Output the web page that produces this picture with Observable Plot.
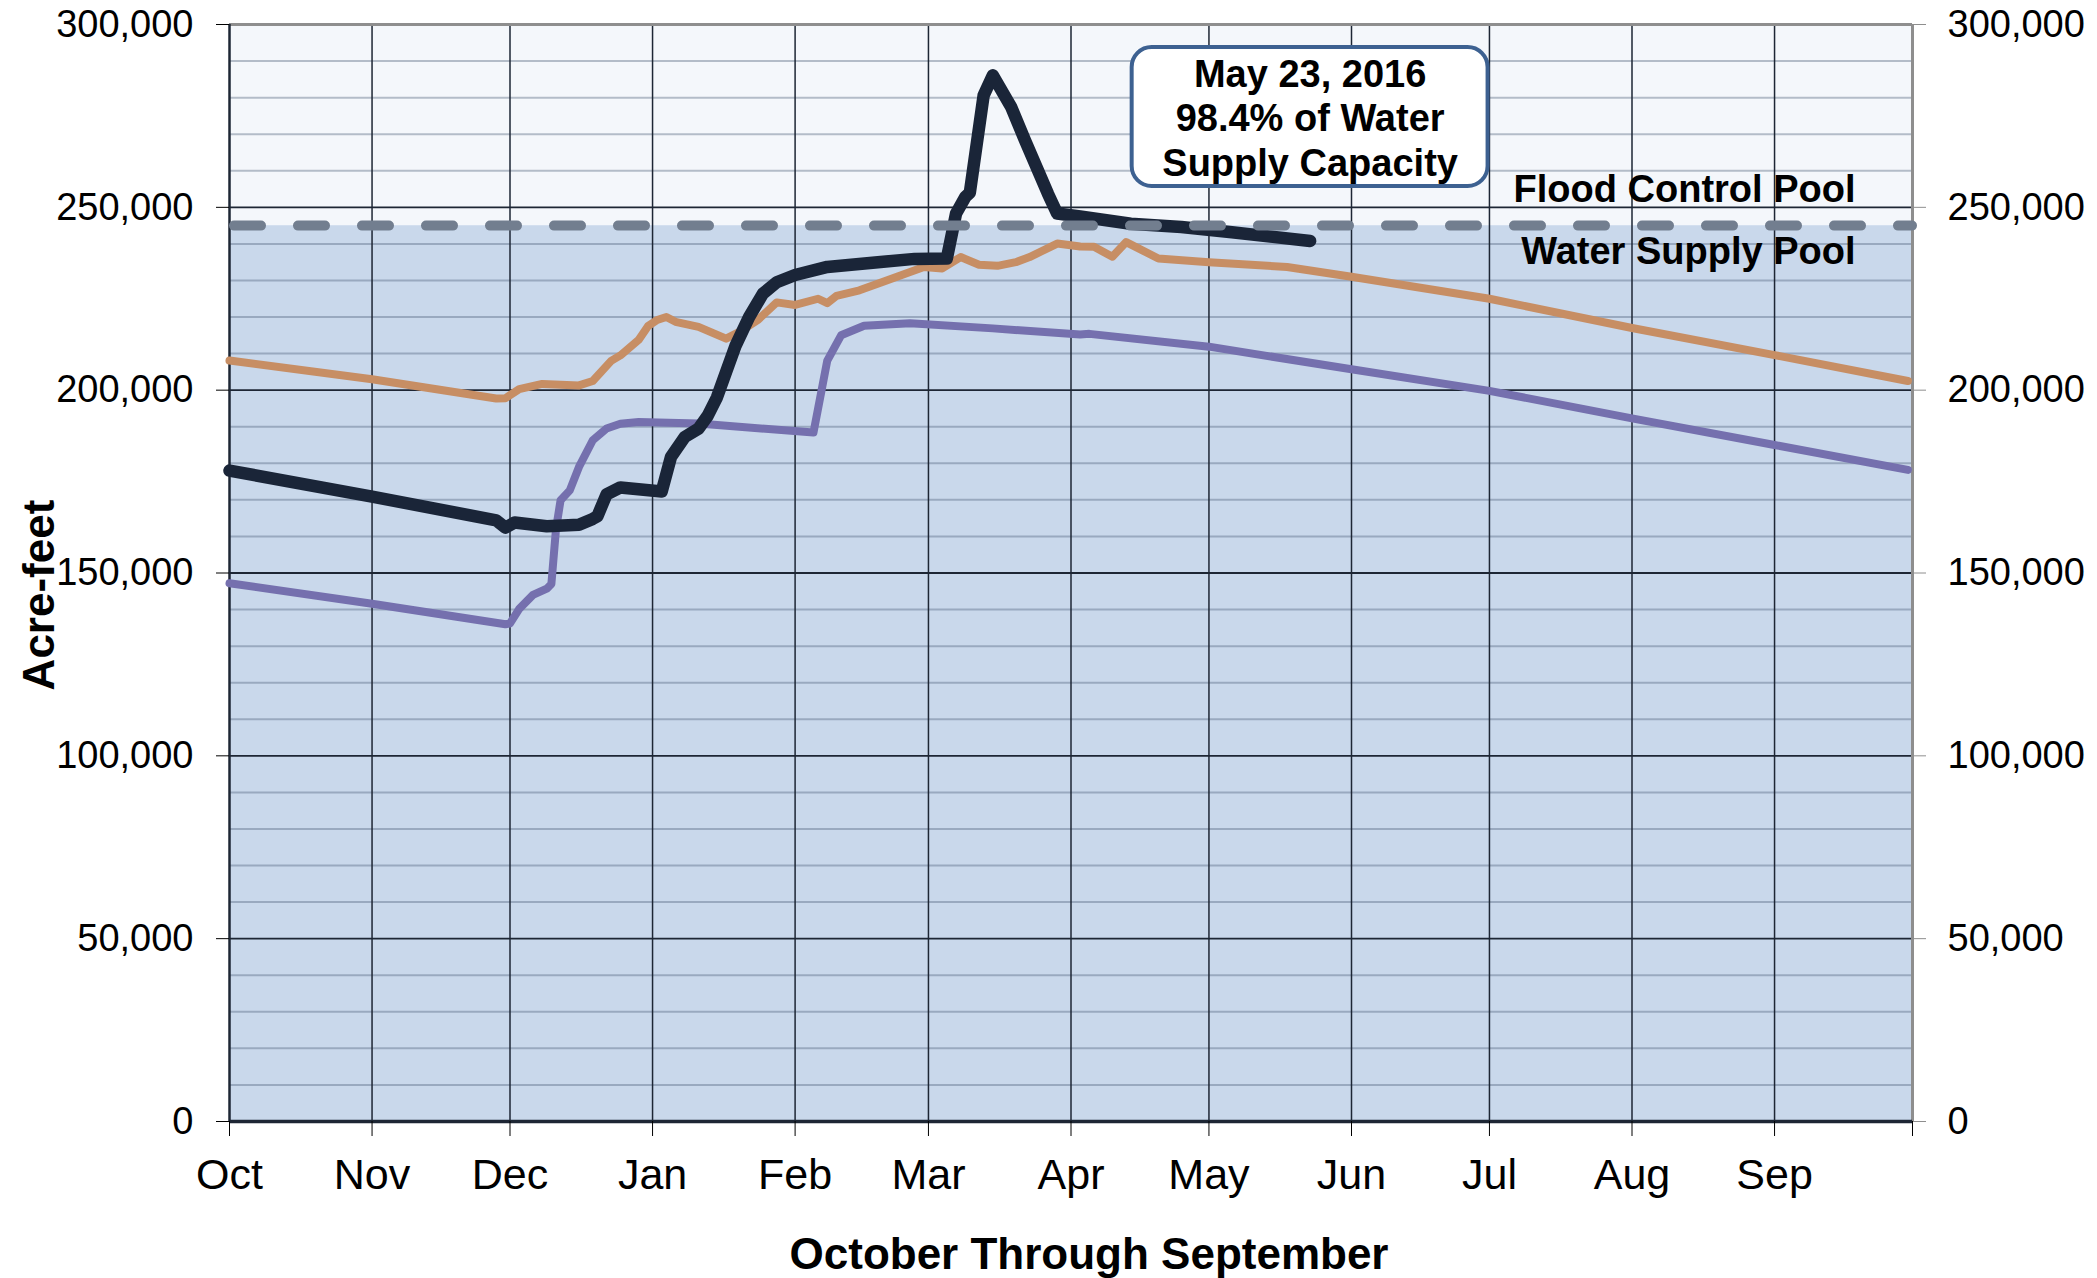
<!DOCTYPE html>
<html>
<head>
<meta charset="utf-8">
<script src="https://cdn.jsdelivr.net/npm/d3@7"></script>
<script src="https://cdn.jsdelivr.net/npm/@observablehq/plot@0.6"></script>
<style>
  html, body { margin: 0; padding: 0; background: #ffffff; overflow: hidden; }
  #chart svg { display: block; }
</style>
</head>
<body>
<div id="chart"></div>
<script>
// ---------- Data ----------
const monthLabels = ["Oct", "Nov", "Dec", "Jan", "Feb", "Mar", "Apr", "May", "Jun", "Jul", "Aug", "Sep"];
const yTickValues = [0, 50000, 100000, 150000, 200000, 250000, 300000];
const waterSupplyCapacity = 245000;
const poolNames = ["Water Supply Pool", "Flood Control Pool"];
const poolBottoms = [0, 245000];
const poolTops = [245000, 300000];
const annotationText = "May 23, 2016\n98.4% of Water\nSupply Capacity";
const xTitle = "October Through September";
const yTitle = "Acre-feet";

// Water year 2016 (black line)
const currentDates = ["2015-10-01","2015-11-01","2015-11-28","2015-11-30","2015-12-02","2015-12-09","2015-12-16","2015-12-19","2015-12-20","2015-12-22","2015-12-25","2016-01-03","2016-01-05","2016-01-08","2016-01-11","2016-01-13","2016-01-15","2016-01-17","2016-01-19","2016-01-22","2016-01-25","2016-01-28","2016-02-01","2016-02-08","2016-02-19","2016-02-27","2016-03-05","2016-03-07","2016-03-09","2016-03-10","2016-03-13","2016-03-15","2016-03-19","2016-03-22","2016-03-27","2016-03-29","2016-04-03","2016-04-14","2016-04-25","2016-05-06","2016-05-23"];
const currentValues = [178000,170900,164400,162400,163800,162800,163200,164800,165500,171500,173400,172300,181700,187200,189500,193000,198000,205000,212000,220000,226400,229500,231500,233700,235000,235900,236000,248300,252800,254000,280600,286100,277400,268300,253700,248300,247500,245500,244600,243200,240800];

// Tan line
const tanDates = ["2015-10-01","2015-11-01","2015-11-28","2015-11-30","2015-12-03","2015-12-08","2015-12-16","2015-12-19","2015-12-23","2015-12-25","2015-12-29","2015-12-31","2016-01-02","2016-01-04","2016-01-06","2016-01-11","2016-01-17","2016-01-20","2016-01-24","2016-01-28","2016-02-01","2016-02-06","2016-02-08","2016-02-10","2016-02-15","2016-02-20","2016-02-26","2016-02-29","2016-03-04","2016-03-08","2016-03-12","2016-03-16","2016-03-20","2016-03-23","2016-03-29","2016-04-03","2016-04-06","2016-04-10","2016-04-13","2016-04-20","2016-05-01","2016-05-18","2016-06-01","2016-07-01","2016-08-01","2016-09-01","2016-09-30"];
const tanValues = [208100,203000,197700,197800,200300,201700,201300,202500,208000,209500,213800,217500,219200,220000,218700,217300,214100,216000,219300,224000,223300,225000,223800,225800,227300,229600,232300,233700,233300,236400,234300,234000,235000,236400,240100,239300,239200,236500,240500,236000,235000,233700,231000,225000,217000,209600,202500];

// Purple line
const purpleDates = ["2015-10-01","2015-11-01","2015-11-30","2015-12-01","2015-12-03","2015-12-06","2015-12-09","2015-12-10","2015-12-11","2015-12-12","2015-12-14","2015-12-16","2015-12-19","2015-12-22","2015-12-25","2015-12-29","2016-01-11","2016-02-05","2016-02-06","2016-02-08","2016-02-11","2016-02-16","2016-02-26","2016-03-15","2016-04-03","2016-04-05","2016-05-01","2016-06-01","2016-07-01","2016-08-01","2016-09-01","2016-09-30"];
const purpleValues = [147200,141600,136000,136200,140200,144000,145700,147000,162000,169900,172600,179000,186300,189500,190800,191300,190900,188400,195000,208100,215000,217600,218300,216900,215200,215400,211900,205700,199800,192300,185000,178200];

// ---------- Build tables ----------
const parse = d3.utcParse("%Y-%m-%d");
const toSeries = (dates, values) => dates.map((d, i) => ({date: parse(d), value: values[i]}));
const current = toSeries(currentDates, currentValues);
const tan = toSeries(tanDates, tanValues);
const purple = toSeries(purpleDates, purpleValues);
const pools = poolNames.map((name, i) => ({name, bottom: poolBottoms[i], top: poolTops[i]}));

const start = parse("2015-10-01");
const end = parse("2016-10-01");
const monthTicks = d3.utcMonth.range(start, d3.utcDay.offset(end, 1));
const labelByTime = new Map(monthTicks.map((d, i) => [+d, monthLabels[i] ?? ""]));
const minorTicks = d3.range(10000, 300000, 10000).filter(v => v % 50000 !== 0);
const last = current[current.length - 1];
const DAY = 864e5;
const commaFormat = d3.format(",");

const dark = "#1d2634";
const font = "'Liberation Sans', Arial, sans-serif";

const chart = Plot.plot({
  width: 2097,
  height: 1278,
  marginLeft: 229,
  marginRight: 185,
  marginTop: 24,
  marginBottom: 157,
  x: {type: "utc", domain: [start, end]},
  y: {domain: [0, 300000]},
  style: {fontFamily: font, color: "#000", background: "#fff"},
  marks: [
    Plot.rect(pools, {
      x1: () => start, x2: () => end, y1: "bottom", y2: "top",
      fill: d => d.name === "Water Supply Pool" ? "#c9d8eb" : "#f4f7fb"
    }),
    Plot.ruleY(minorTicks, {stroke: "#52647c", strokeOpacity: 0.4, strokeWidth: 2}),
    Plot.ruleY(yTickValues.filter(v => v > 0 && v < 300000), {stroke: dark, strokeWidth: 1.8}),
    Plot.ruleX(monthTicks.slice(1, -1), {stroke: dark, strokeWidth: 1.5}),
    Plot.ruleY([300000], {stroke: "#8e8e8e", strokeWidth: 3}),
    Plot.ruleX([end], {stroke: "#8e8e8e", strokeWidth: 3}),
    Plot.ruleX([start], {stroke: dark, strokeWidth: 2.5}),
    Plot.ruleY([0], {stroke: dark, strokeWidth: 3.5}),

    Plot.line(tan, {x: "date", y: "value", stroke: "#c78e64", strokeWidth: 8, strokeLinejoin: "round"}),
    Plot.line(purple, {x: "date", y: "value", stroke: "#7570ae", strokeWidth: 8, strokeLinejoin: "round"}),
    Plot.line(current, {x: "date", y: "value", stroke: "#1a2538", strokeWidth: 12.5, strokeLinejoin: "round", strokeLinecap: "round"}),

    Plot.ruleY([waterSupplyCapacity], {stroke: "#727e8f", strokeWidth: 10, strokeDasharray: "27 37", strokeLinecap: "round", strokeDashoffset: -5}),

    Plot.axisY({anchor: "left", ticks: yTickValues, tickFormat: commaFormat, tickSize: 13, tickPadding: 23, fontSize: 38, label: null}),
    Plot.axisY({anchor: "right", ticks: yTickValues, tickFormat: commaFormat, tickSize: 13, tickPadding: 22, fontSize: 38, label: null, stroke: "#8e8e8e", fill: "#000"}),
    Plot.axisX({ticks: monthTicks, tickFormat: d => labelByTime.get(+d), tickSize: 15, tickPadding: 22, fontSize: 43, label: null}),

    Plot.text([yTitle], {frameAnchor: "left", textAnchor: "middle", lineAnchor: "middle", rotate: -90, dx: -190, dy: 22, fontSize: 44, fontWeight: "bold"}),
    Plot.text([xTitle], {frameAnchor: "bottom", textAnchor: "middle", lineAnchor: "middle", dx: 18, dy: 133, fontSize: 44, fontWeight: "bold"}),

    Plot.text([poolNames[1]], {x: () => end, y: () => waterSupplyCapacity, textAnchor: "end", dx: -57, dy: -36, fontSize: 38, fontWeight: "bold"}),
    Plot.text([poolNames[0]], {x: () => end, y: () => waterSupplyCapacity, textAnchor: "end", dx: -57, dy: 26, fontSize: 38, fontWeight: "bold"}),

    Plot.rect([last], {
      x1: d => new Date(+d.date - 38.7 * DAY), x2: d => new Date(+d.date + 38.7 * DAY),
      y1: () => 255700, y2: () => 293700,
      fill: "#ffffff", stroke: "#3d6191", strokeWidth: 4, rx: 20
    }),
    Plot.text([annotationText], {x: () => last.date, y: () => 274700, lineHeight: 1.17, fontSize: 38, fontWeight: "bold"})
  ]
});

document.getElementById("chart").appendChild(chart);
</script>
</body>
</html>
